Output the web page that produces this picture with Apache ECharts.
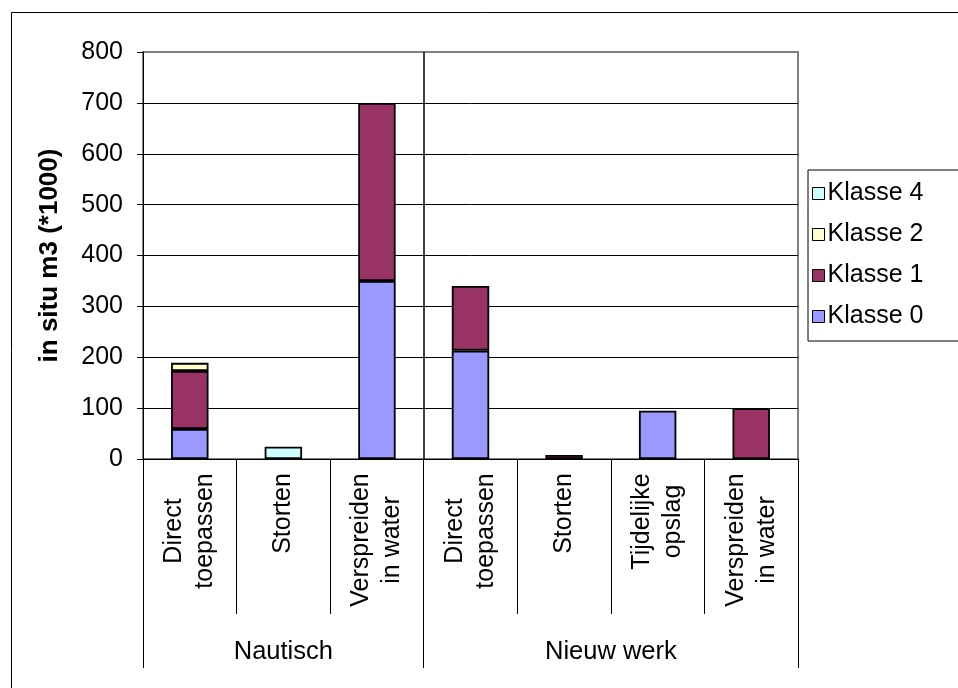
<!DOCTYPE html>
<html>
<head>
<meta charset="utf-8">
<script src="https://cdn.jsdelivr.net/npm/echarts@6/dist/echarts.min.js"></script>
<style>
  html, body { margin: 0; padding: 0; background: #ffffff; }
  #chart { width: 958px; height: 688px; }
</style>
</head>
<body>
<div id="chart"></div>
<script>
// Sub-categories along the x axis (two-level: destination within project type)
const categories = [
  'Direct\ntoepassen', 'Storten', 'Verspreiden\nin water',
  'Direct\ntoepassen', 'Storten', 'Tijdelijke\nopslag', 'Verspreiden\nin water'
];
// Outer level: project type and how many sub-categories each spans
const groups = ['Nautisch', 'Nieuw werk'];
const groupSizes = [3, 4];

// Volumes in situ m3 (*1000), stacked bottom to top
const klasse0 = [59, null, 350, 213, null, 95, null];
const klasse1 = [114, null, 350, 127, 8, null, 100];
const klasse2 = [16, null, null, null, null, null, null];
const klasse4 = [null, 24, null, null, null, null, null];

const seriesNames = ['Klasse 0', 'Klasse 1', 'Klasse 2', 'Klasse 4'];
const seriesValues = [klasse0, klasse1, klasse2, klasse4];
const seriesColors = ['#9999FF', '#993366', '#FFFFCC', '#CCFFFF'];
const legendOrder = ['Klasse 4', 'Klasse 2', 'Klasse 1', 'Klasse 0'];

// Value axis ticks
const yMin = 0, yMax = 800, yStep = 100;

const FONT = '"Liberation Sans", Arial, sans-serif';
const TICK_FS = 25;
const CAT_FS = 25;
const GROUP_FS = 25.5;
const LEGEND_FS = 25;
const TITLE_FS = 26;
const CAT_LH = 31;

// Outer-level axis: half-category slots so group labels sit at group centres
// and dividers fall on group boundaries.
const halfSlots = new Array(categories.length * 2 + 1).fill('');
const boundarySlots = [0];
let start = 0;
groups.forEach((g, i) => {
  halfSlots[start * 2 + groupSizes[i]] = g;
  start += groupSizes[i];
  boundarySlots.push(start * 2);
});
const innerBoundaries = boundarySlots.slice(1, -1);

// Each sub-category label: lines centred within a block as wide as its longest line
const measureCtx = document.createElement('canvas').getContext('2d');
measureCtx.font = CAT_FS + 'px ' + FONT;
const catRich = {};
categories.forEach((c, i) => {
  const w = Math.max.apply(null, c.split('\n').map(s => measureCtx.measureText(s).width));
  catRich['c' + i] = {
    width: Math.ceil(w), align: 'center',
    fontFamily: FONT, fontSize: CAT_FS, color: '#000000', lineHeight: CAT_LH
  };
});
const catLabel = (v, idx) => v.split('\n').map(s => '{c' + idx + '|' + s + '}').join('\n');

// Grid line colours: top line matches the plot frame
const nLines = Math.round((yMax - yMin) / yStep) + 1;
const gridColors = [];
for (let i = 0; i < nLines; i++) gridColors.push(i === nLines - 1 ? '#808080' : '#000000');

const chart = echarts.init(document.getElementById('chart'), null, { renderer: 'canvas' });

chart.setOption({
  animation: false,
  backgroundColor: '#ffffff',
  textStyle: { fontFamily: FONT },
  graphic: [{
    type: 'rect', left: 9, top: 10, z: -10, silent: true,
    shape: { width: 1200, height: 900 },
    style: { fill: 'none', stroke: '#000000', lineWidth: 1 }
  }],
  grid: {
    left: 143, top: 52, right: 160, bottom: 229,
    show: true, borderColor: '#808080', borderWidth: 2, backgroundColor: 'transparent'
  },
  legend: {
    orient: 'vertical', left: 808, top: 170,
    data: legendOrder,
    backgroundColor: '#ffffff', borderColor: '#000000', borderWidth: 1,
    padding: [11, 40, 12, 4],
    itemWidth: 12, itemHeight: 12, itemGap: 16,
    icon: 'rect',
    itemStyle: { borderColor: '#000000', borderWidth: 1 },
    textStyle: { fontFamily: FONT, fontSize: LEGEND_FS, color: '#000000', padding: [0, 0, 0, -2] },
    selectedMode: false
  },
  xAxis: [{
    type: 'category', data: categories, position: 'bottom',
    axisLine: { show: true, lineStyle: { color: '#000000', width: 1 } },
    axisTick: { show: true, interval: 0, length: 155, lineStyle: { color: '#000000', width: 1 } },
    axisLabel: {
      interval: 0, rotate: 90, margin: 14,
      fontFamily: FONT, fontSize: CAT_FS, color: '#000000', lineHeight: CAT_LH,
      formatter: catLabel,
      rich: catRich
    },
    splitLine: { show: false }
  }, {
    type: 'category', data: halfSlots, position: 'bottom', boundaryGap: false,
    axisLine: { show: false },
    axisTick: {
      show: true, length: 209, lineStyle: { color: '#000000', width: 1 },
      interval: (i) => boundarySlots.indexOf(i) >= 0
    },
    axisLabel: {
      margin: 180, fontFamily: FONT, fontSize: GROUP_FS, color: '#000000',
      interval: (i, v) => v !== ''
    },
    splitLine: {
      show: true, lineStyle: { color: '#000000', width: 1.5 },
      interval: (i) => innerBoundaries.indexOf(i) >= 0
    }
  }],
  yAxis: {
    type: 'value', min: yMin, max: yMax, interval: yStep,
    name: 'in situ m3 (*1000)', nameLocation: 'middle', nameGap: 80,
    nameTextStyle: { fontFamily: FONT, fontSize: TITLE_FS, fontWeight: 'bold', color: '#000000' },
    axisLine: { show: true, lineStyle: { color: '#000000', width: 1 } },
    axisTick: { show: true, length: 6, lineStyle: { color: '#000000' } },
    axisLabel: { margin: 20, fontFamily: FONT, fontSize: TICK_FS, color: '#000000' },
    splitLine: { show: true, lineStyle: { color: gridColors, width: 1 } }
  },
  series: seriesNames.map((name, i) => ({
    name: name, type: 'bar', stack: 'total', xAxisIndex: 0,
    data: seriesValues[i], barWidth: '40%',
    itemStyle: { color: seriesColors[i], borderColor: '#000000', borderWidth: 1.8 }
  }))
});
</script>
</body>
</html>
